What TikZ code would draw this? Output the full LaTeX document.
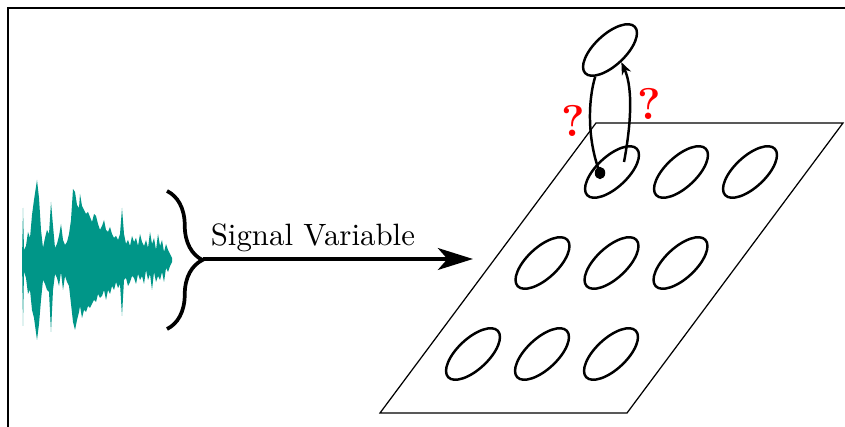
\documentclass[tikz,border=0pt]{standalone}
\usetikzlibrary{arrows.meta,shapes.geometric,decorations.pathreplacing}
\definecolor{waveteal}{RGB}{0,150,136}

\begin{document}
\begin{tikzpicture}[
    x=0.324pt, y=-0.324pt,
    every node/.style={font=\normalsize},
    wave/.style={fill=waveteal},
    grp/.style={decorate, decoration={brace, amplitude=11.5pt}, line width=1.2pt},
    flow/.style={-{Stealth[length=11.3pt, width=7pt, inset=3pt]}, line width=1.6pt},
    plane/.style={draw, line width=0.4pt},
    cell/.style={draw, ellipse, thick, rotate=43, minimum width=22pt, minimum height=10pt, inner sep=0pt},
    dot/.style={ellipse, fill, minimum width=3.4pt, minimum height=4pt, inner sep=0pt},
    link/.style={thick},
    qmark/.style={text=red, font=\Large\bfseries},
    frame/.style={line width=0.4pt}
]
\useasboundingbox (0,0) rectangle (845,427);
\draw[frame] (845,8) -- (8,8) -- (8,427);

% sound wave
\fill[wave] (22,260)
  \foreach \x/\u in {23/52, 24/10, 26/14, 28/28, 30/22, 32/45, 34/60, 37/80, 39/62, 41/30, 43/12, 45/22, 47/30, 49/26, 51/58, 53/34, 55/12, 57/16, 59/24, 61/36, 63/20, 65/15, 67/18, 69/26, 71/40, 73/71, 75/68, 77/55, 79/52, 80/66, 82/54, 84/50, 86/46, 88/48, 90/43, 92/38, 94/46, 96/44, 98/36, 100/30, 102/34, 104/40, 106/30, 108/28, 110/33, 112/26, 114/22, 116/24, 118/20, 120/26, 122/52, 124/26, 126/16, 128/20, 130/14, 132/24, 134/18, 136/22, 138/14, 140/26, 142/18, 144/14, 146/20, 148/12, 150/28, 152/16, 154/22, 156/10, 158/26, 160/14, 162/20, 164/8, 166/16, 168/10, 170/6, 172/2}
    { -- (\x,{260-\u}) }
  \foreach \x/\d in {172/2, 170/6, 168/12, 166/8, 164/22, 162/12, 160/20, 158/16, 156/22, 154/12, 152/30, 150/14, 148/20, 146/10, 144/24, 142/16, 140/20, 138/14, 136/24, 134/18, 132/16, 130/22, 128/26, 126/18, 124/20, 122/56, 120/24, 118/28, 116/22, 114/30, 112/26, 110/34, 108/30, 106/40, 104/30, 102/36, 100/38, 98/34, 96/42, 94/40, 92/44, 90/48, 88/46, 86/52, 84/50, 82/58, 80/46, 79/52, 77/60, 75/70, 73/62, 71/44, 69/26, 67/22, 65/16, 63/30, 61/12, 59/26, 57/18, 55/14, 53/30, 51/72, 49/32, 47/30, 45/24, 43/20, 41/40, 39/64, 37/80, 34/58, 32/50, 30/30, 28/34, 26/18, 24/12, 23/66}
    { -- (\x,{260+\d}) }
  -- cycle;

\draw[grp] (167,191) -- (167,329);
\coordinate (tip) at (203,259);
\coordinate (head) at (473,259);
\draw[flow] (tip) -- node[above, pos=0.407, inner sep=1.5pt] (label) {Signal Variable} (head);

% grid of states
\draw[plane] (380,413) -- (627,413) -- (843,123) -- (596,123) -- cycle;
\foreach \r in {0,1,2}
  \foreach \c in {0,1,2}
    \node[cell] (cell-\r-\c) at ({612+69*\c-69.5*\r},{172+91*\r}) {};
\node[cell] (target) at (610,50) {};
\node[dot] (src) at (600,173) {};
\coordinate (ret) at (624,162);
\draw[link] (src.center) .. controls (587,140) and (588,100) .. (target.198);
\draw[link, -{Stealth[length=4pt, width=3.2pt]}] (ret) .. controls (630,130) and (634,90) .. (target.south);
\node[qmark] (q1) at (573,121) {?};
\node[qmark] (q2) at (649,104) {?};
\end{tikzpicture}
\end{document}
